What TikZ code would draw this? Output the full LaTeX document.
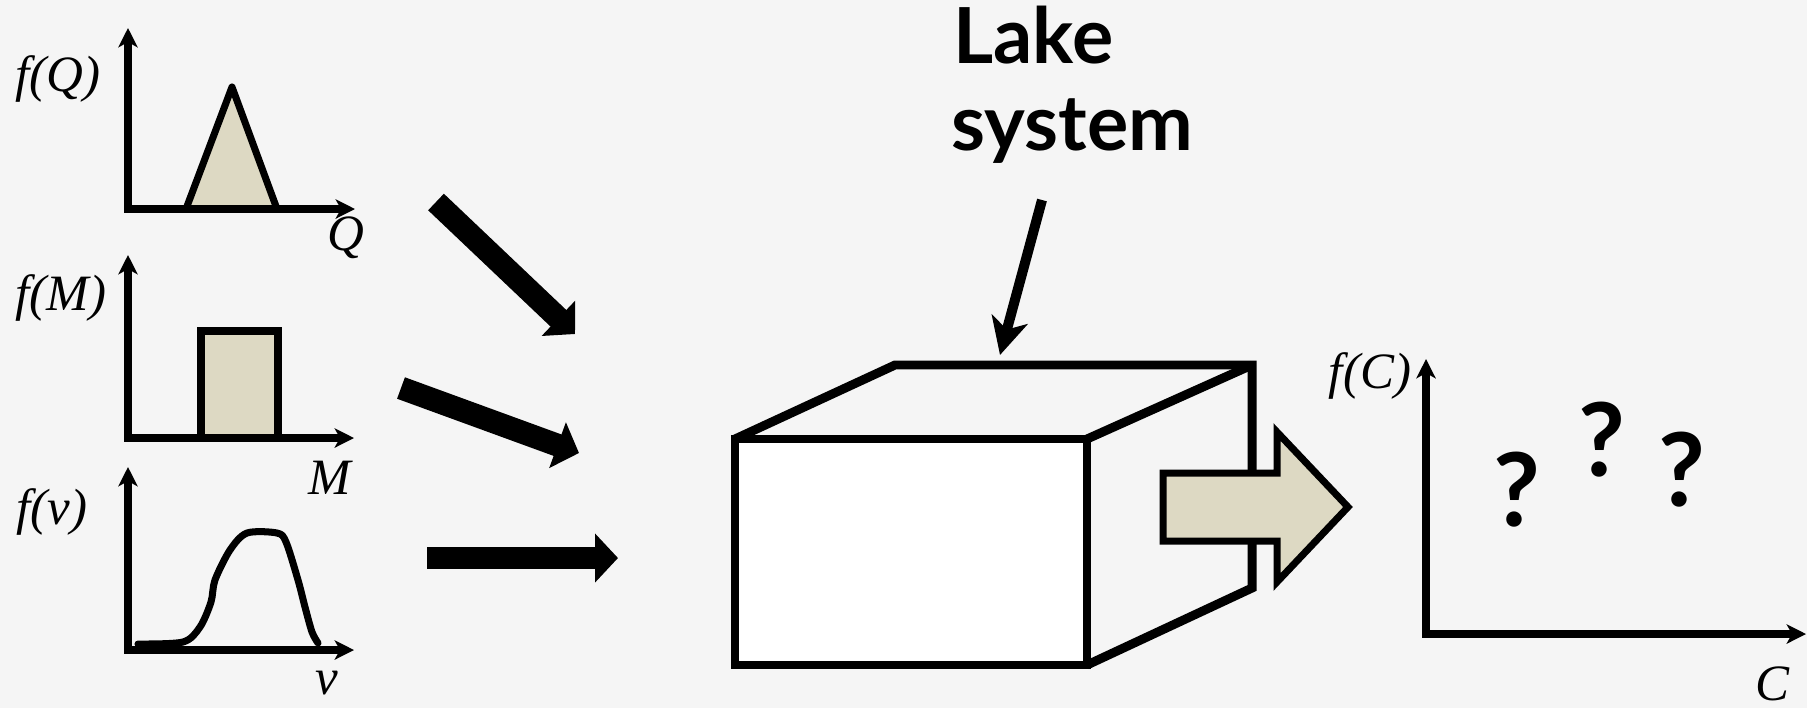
\documentclass[tikz,border=0pt]{standalone}
\usepackage{fontspec}
\setmainfont{Liberation Serif}
\newfontfamily\lakefont{Lato}
\usetikzlibrary{arrows.meta}
\definecolor{bg}{HTML}{F5F5F5}
\definecolor{tanfill}{HTML}{DDD9C3}
\tikzset{
  axistip/.tip={Stealth[length=11pt,width=11pt,inset=3pt]},
  axisline/.style={line width=4.2pt, axistip-axistip},
  distshape/.style={line width=4pt, line join=round, fill=tanfill, draw=black},
  distcurve/.style={line width=4pt, line join=round, line cap=round},
  lbl/.style={inner sep=0pt, font=\fontsize{29}{33}\selectfont\itshape},
  blockarrow/.style={line width=13pt, -{Triangle[length=13pt,width=27pt]}},
  lakearrow/.style={line width=5.7pt, -{Stealth[length=21pt,width=21pt,inset=6pt]}},
  laketxt/.style={inner sep=0pt, font=\lakefont\bfseries\fontsize{44}{50}\selectfont},
  qmark/.style={inner sep=0pt, font=\lakefont\bfseries\fontsize{58}{60}\selectfont},
  cubeline/.style={line width=5.1pt, line join=miter},
  outarrow/.style={line width=4pt, fill=tanfill, draw=black, line join=miter}
}
\begin{document}
\begin{tikzpicture}[x=0.02cm,y=-0.02cm]
\fill[bg] (0,0) rectangle (1807,708);
\useasboundingbox (0,0) rectangle (1807,708);

% ---- f(Q) plot
\filldraw[distshape] (232,87) -- (277,209) -- (186,209) -- cycle;
\coordinate (qy) at (128,28);
\coordinate (qo) at (128,209);
\coordinate (qx) at (355,209);
\draw[axisline] (qy) -- (qo) -- (qx);
\node[lbl] (fq) at (58,79) {f(Q)};
\node[lbl] (ql) at (346,238) {Q};

% ---- f(M) plot
\filldraw[distshape, line join=miter] (201,331) rectangle (278,438);
\coordinate (my) at (128,255);
\coordinate (mo) at (128,438);
\coordinate (mx) at (354,438);
\draw[axisline] (my) -- (mo) -- (mx);
\node[lbl] (fm) at (61,298) {f(M)};
\node[lbl] (ml) at (330,478) {M};

% ---- f(v) plot
\draw[distcurve] plot[smooth, tension=0.5] coordinates {(138,644) (183,642) (200,627) (211,602) (215,580) (230,550) (247,533) (277,533) (286,542) (298,580) (305,607) (312,632) (318,643)};
\coordinate (vy) at (128,467);
\coordinate (vo) at (128,650);
\coordinate (vx) at (354,650);
\draw[axisline] (vy) -- (vo) -- (vx);
\node[lbl] (fv) at (52,512) {f(v)};
\node[lbl] (vl) at (327,683) {v};

% ---- input block arrows
\coordinate (a1s) at (436,202); \coordinate (a1e) at (575,334);
\coordinate (a2s) at (401,388); \coordinate (a2e) at (579,453);
\coordinate (a3s) at (427,558); \coordinate (a3e) at (618,558);
\draw[blockarrow] (a1s) -- (a1e);
\draw[blockarrow] (a2s) -- (a2e);
\draw[blockarrow] (a3s) -- (a3e);

% ---- Lake system label
\node[laketxt, anchor=base west] (lake) at (953,63) {Lake};
\node[laketxt, anchor=base west] (system) at (951,150) {system};
\coordinate (ls) at (1042,200);
\coordinate (lt) at (1000,355);
\draw[lakearrow] (ls) -- (lt);

% ---- cube
\coordinate (ftl) at (735,439);
\coordinate (ftr) at (1087,439);
\coordinate (fbr) at (1087,665);
\coordinate (fbl) at (735,665);
\coordinate (btl) at (895,365);
\coordinate (btr) at (1252,365);
\coordinate (bbr) at (1252,588);
\draw[cubeline] (ftl) -- (btl) -- (btr) -- (bbr) -- (fbr);
\draw[cubeline] (ftr) -- (btr);
\filldraw[cubeline, fill=white] (ftl) -- (ftr) -- (fbr) -- (fbl) -- cycle;

% ---- output block arrow
\filldraw[outarrow] (1163,473) -- (1277,473) -- (1277,432) -- (1348,507) -- (1277,582) -- (1277,541) -- (1163,541) -- cycle;

% ---- f(C) plot
\coordinate (cy) at (1426,359);
\coordinate (co) at (1426,634);
\coordinate (cx) at (1806,634);
\draw[axisline] (cy) -- (co) -- (cx);
\node[lbl] (fc) at (1370,376) {f(C)};
\node[lbl] (cl) at (1772,684) {C};
\node[qmark] (q1) at (1517,490) {?};
\node[qmark] (q2) at (1602,440) {?};
\node[qmark] (q3) at (1682,470) {?};
\end{tikzpicture}
\end{document}
